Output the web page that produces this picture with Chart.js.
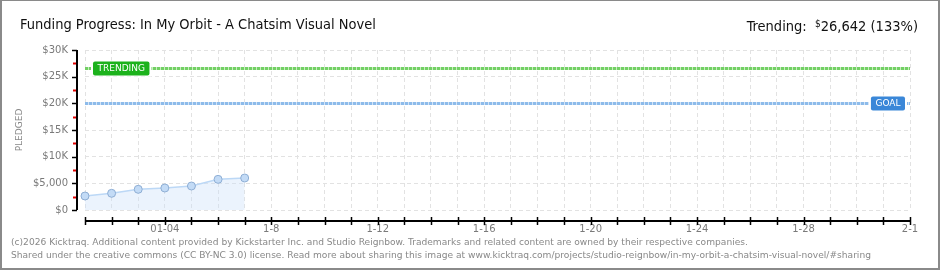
<!DOCTYPE html>
<html>
<head>
<meta charset="utf-8">
<script src="https://cdn.jsdelivr.net/npm/chart.js@4/dist/chart.umd.min.js"></script>
<style>
html, body { margin: 0; padding: 0; background: #fff; }
#wrap { position: relative; width: 940px; height: 270px; overflow: hidden; }
#chart_canvas { position: absolute; left: 0; top: 0; }
#frame { position: absolute; left: 0; top: 0; width: 940px; height: 270px; box-sizing: border-box;
         border: 2px solid #8a8a8a; border-top-width: 1px; pointer-events: none; }
.title { position: absolute; left: 20px; top: 17px; font: 14.5px "Liberation Sans Narrow", "DejaVu Sans Condensed", sans-serif;
         line-height: 15px; color: #111; white-space: nowrap; }
.trend { position: absolute; right: 22px; top: 16px; font: 14.5px "Liberation Sans Narrow", "DejaVu Sans Condensed", sans-serif;
         line-height: 15px; color: #111; white-space: nowrap; }
.trend sup { font-size: 10px; vertical-align: 4px; }
.foot { position: absolute; left: 11px; top: 236px; font: 9.1px "DejaVu Sans", sans-serif; line-height: 13px;
        color: #888; white-space: nowrap; }
</style>
</head>
<body>
<div id="wrap">
  <canvas id="chart_canvas" width="940" height="270"></canvas>
  <div class="title">Funding Progress: In My Orbit - A Chatsim Visual Novel</div>
  <div class="trend">Trending:&nbsp; <sup>$</sup>26,642 (133%)</div>
  <div class="foot">(c)2026 Kicktraq. Additional content provided by Kickstarter Inc. and Studio Reignbow. Trademarks and related content are owned by their respective companies.<br>Shared under the creative commons (CC BY-NC 3.0) license. Read more about sharing this image at www.kicktraq.com/projects/studio-reignbow/in-my-orbit-a-chatsim-visual-novel/#sharing</div>
  <div id="frame"></div>
</div>
<script>
'use strict';

// one category per day, 1-1 .. 2-1
var days = ['1-1','1-2','1-3','1-4','1-5','1-6','1-7','1-8','1-9','1-10','1-11','1-12','1-13','1-14','1-15','1-16',
            '1-17','1-18','1-19','1-20','1-21','1-22','1-23','1-24','1-25','1-26','1-27','1-28','1-29','1-30','1-31','2-1'];
var dayLabels = ['','','','01-04','','','','1-8','','','','1-12','','','','1-16',
                 '','','','1-20','','','','1-24','','','','1-28','','','','2-1'];
var pledged = [2625, 3130, 3880, 4125, 4500, 5750, 6000];
var yTickLabels = ['$0', '$5,000', '$10K', '$15K', '$20K', '$25K', '$30K'];
var goal = 20000;
var trending = 26642;

function tag(ctx, text, x, y, color, alignRight) {
    ctx.font = '9px "DejaVu Sans", sans-serif';
    var w = ctx.measureText(text).width + 9;
    var h = 14;
    var left = alignRight ? x - w : x;
    ctx.fillStyle = '#fff';
    ctx.fillRect(left - 2, y - h / 2 - 1, w + 4, h + 2);
    ctx.fillStyle = color;
    ctx.beginPath();
    ctx.roundRect(left, y - h / 2, w, h, 2);
    ctx.fill();
    ctx.fillStyle = '#fff';
    ctx.textAlign = 'center';
    ctx.textBaseline = 'middle';
    ctx.fillText(text, left + w / 2, y + 0.5);
}

function dottedLine(ctx, a, yPix, light, dark) {
    ctx.lineWidth = 3;
    ctx.setLineDash([]);
    ctx.strokeStyle = light;
    ctx.beginPath(); ctx.moveTo(a.left, yPix); ctx.lineTo(a.right, yPix); ctx.stroke();
    ctx.setLineDash([3, 1]);
    ctx.strokeStyle = dark;
    ctx.beginPath(); ctx.moveTo(a.left, yPix); ctx.lineTo(a.right, yPix); ctx.stroke();
    ctx.setLineDash([]);
}

var kickAxes = {
    id: 'kickAxes',
    afterDatasetsDraw: function(chart) {
        var ctx = chart.ctx, xs = chart.scales.x, ys = chart.scales.y, a = chart.chartArea;
        ctx.save();
        // goal + trending
        var gy = Math.round(ys.getPixelForValue(goal)) + 0.5;
        var ty = Math.round(ys.getPixelForValue(trending)) + 0.5;
        dottedLine(ctx, a, ty, '#c8eebf', '#72d064');
        dottedLine(ctx, a, gy, '#d2e4f7', '#8dbbea');
        tag(ctx, 'TRENDING', a.left + 8, ty, '#1cb21c', false);
        tag(ctx, 'GOAL', a.right - 5, gy, '#3a87d8', true);

        // y axis, offset left of the plot
        var axX = a.left - 8;
        ctx.strokeStyle = '#000';
        ctx.lineWidth = 2;
        ctx.beginPath(); ctx.moveTo(axX, a.top); ctx.lineTo(axX, a.bottom); ctx.stroke();
        for (var v = 0; v <= 30000; v += 5000) {
            var py = Math.round(ys.getPixelForValue(v)) + 0.5;
            ctx.lineWidth = 1.5;
            ctx.strokeStyle = '#000';
            ctx.beginPath(); ctx.moveTo(axX - 5, py); ctx.lineTo(axX, py); ctx.stroke();
            if (v < 30000) {
                var my = Math.round(ys.getPixelForValue(v + 2500)) + 0.5;
                ctx.lineWidth = 2;
                ctx.strokeStyle = '#e00000';
                ctx.beginPath(); ctx.moveTo(axX - 4, my); ctx.lineTo(axX - 1, my); ctx.stroke();
            }
        }

        // x axis, offset below the plot
        var axY = a.bottom + 11;
        ctx.strokeStyle = '#000';
        ctx.lineWidth = 2;
        ctx.beginPath(); ctx.moveTo(a.left, axY); ctx.lineTo(a.right, axY); ctx.stroke();
        ctx.lineWidth = 1.5;
        for (var i = 0; i < days.length; i++) {
            var px = Math.round(xs.getPixelForValue(i)) + 0.5;
            ctx.beginPath(); ctx.moveTo(px, axY - 4); ctx.lineTo(px, axY + 4); ctx.stroke();
        }
        ctx.restore();
    }
};

var canvas = document.getElementById('chart_canvas');
var myChart;
if (canvas !== null) {
    myChart = new Chart(canvas.getContext('2d'), {
        type: 'line',
        data: {
            labels: days,
            datasets: [{
                label: 'Pledged',
                data: pledged,
                borderColor: '#bcd8f6',
                borderWidth: 1.5,
                backgroundColor: 'rgba(205,225,250,0.4)',
                fill: 'origin',
                tension: 0,
                pointRadius: 4,
                pointHoverRadius: 4,
                pointBackgroundColor: '#c3dbf6',
                pointBorderColor: '#8eaed4',
                pointBorderWidth: 1
            }]
        },
        options: {
            responsive: false,
            animation: false,
            events: [],
            layout: { padding: { left: 0, top: 50, right: 30, bottom: 0 } },
            plugins: {
                legend: { display: false },
                title: { display: false },
                tooltip: { enabled: false }
            },
            scales: {
                x: {
                    offset: false,
                    grid: { color: '#e2e2e2', drawTicks: false, offset: false },
                    border: { display: false, dash: [4, 3] },
                    ticks: {
                        autoSkip: false, maxRotation: 0, padding: 13,
                        color: '#7a7a7a', font: { family: 'DejaVu Sans', size: 10 },
                        callback: function(v, i) { return dayLabels[i]; }
                    },
                    afterFit: function(s) { s.height = 60; }
                },
                y: {
                    min: 0, max: 30000,
                    grid: { color: '#e2e2e2', drawTicks: false },
                    border: { display: false, dash: [4, 3] },
                    ticks: {
                        stepSize: 5000, padding: 17,
                        color: '#7a7a7a', font: { family: 'DejaVu Sans', size: 10 },
                        callback: function(v, i) { return yTickLabels[i]; }
                    },
                    title: {
                        display: true, text: 'PLEDGED', color: '#888',
                        font: { family: 'DejaVu Sans', size: 9 },
                        padding: { top: 14, bottom: 0 }
                    },
                    afterFit: function(s) { s.width = 85; }
                }
            }
        },
        plugins: [kickAxes]
    });
}
</script>
</body>
</html>
